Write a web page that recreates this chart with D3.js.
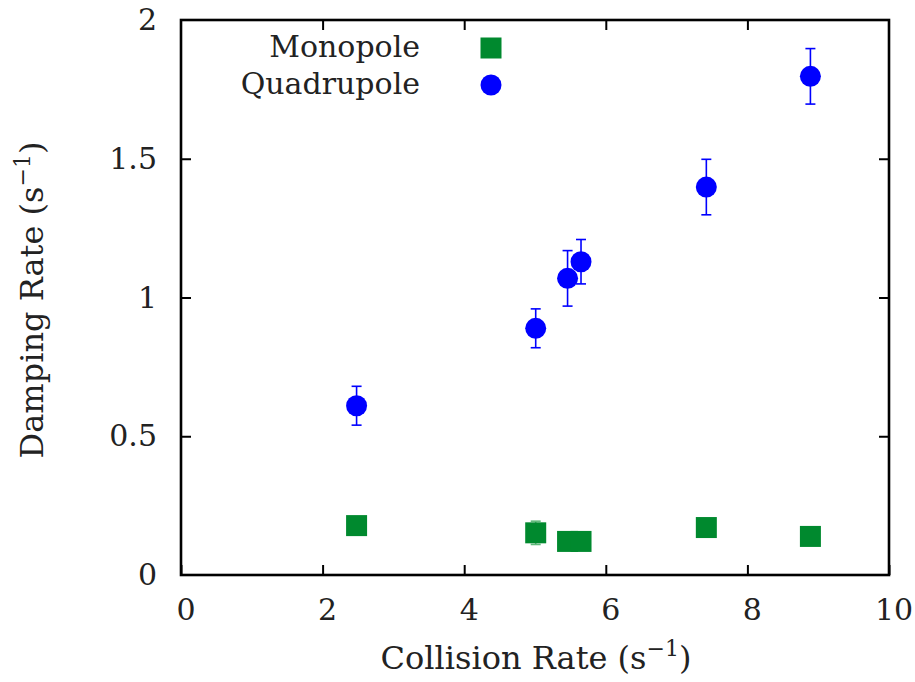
<!DOCTYPE html>
<html>
<head>
<meta charset="utf-8">
<script src="https://cdn.jsdelivr.net/npm/d3@7"></script>
<style>
  html, body { margin: 0; padding: 0; background: #fff; }
  svg { display: block; }
  text { font-family: "DejaVu Serif", serif; fill: #222; }
</style>
</head>
<body>
<svg id="chart" width="915" height="682"></svg>
<script>
// ---- data ----
const collisionRate = [2.48, 5.01, 5.46, 5.65, 7.42, 8.89];
const monopole      = [0.178, 0.152, 0.121, 0.121, 0.171, 0.139];
const monopoleErr   = [0.02, 0.042, 0.02, 0.02, 0.02, 0.02];
const quadrupole    = [0.61, 0.889, 1.069, 1.129, 1.398, 1.797];
const quadrupoleErr = [0.07, 0.07, 0.10, 0.08, 0.10, 0.10];
const xTicks = [0, 2, 4, 6, 8, 10];
const yTicks = [0, 0.5, 1, 1.5, 2];
const yTickLabels = ["0", "0.5", "1", "1.5", "2"];
const seriesNames = ["Monopole", "Quadrupole"];

const green = "#00892e";
const blue = "#0000ff";

const svg = d3.select("#chart");
const L = 181, R = 889, T = 20, B = 575;
const x = d3.scaleLinear().domain([0, 10]).range([L, R]);
const y = d3.scaleLinear().domain([0, 2]).range([B, T]);

const fs = 30;
const fsTitle = 32;
const ff = "DejaVu Serif, serif";

// ticks (inside, mirrored)
const tickLen = 10;
const axisG = svg.append("g");
const bottomAxis = d3.axisBottom(x).tickValues(xTicks).tickSizeInner(-tickLen).tickSizeOuter(0).tickFormat("");
const topAxis = d3.axisTop(x).tickValues(xTicks.slice(1, -1)).tickSizeInner(-tickLen).tickSizeOuter(0).tickFormat("");
const leftAxis = d3.axisLeft(y).tickValues(yTicks.slice(1, -1)).tickSizeInner(-tickLen).tickSizeOuter(0).tickFormat("");
const rightAxis = d3.axisRight(y).tickValues(yTicks.slice(1, -1)).tickSizeInner(-tickLen).tickSizeOuter(0).tickFormat("");
axisG.append("g").attr("transform", `translate(0,${B})`).call(bottomAxis);
axisG.append("g").attr("transform", `translate(0,${T})`).call(topAxis);
axisG.append("g").attr("transform", `translate(${L},0)`).call(leftAxis);
axisG.append("g").attr("transform", `translate(${R},0)`).call(rightAxis);
axisG.selectAll(".domain").remove();
axisG.selectAll(".tick line").attr("stroke", "#000").attr("stroke-width", 2);

// frame
svg.append("rect").attr("x", L).attr("y", T).attr("width", R - L).attr("height", B - T)
  .attr("fill", "none").attr("stroke", "#000").attr("stroke-width", 2.6);

// tick labels
svg.append("g").selectAll("text").data(xTicks).join("text")
  .attr("x", d => x(d) + 5).attr("y", 620)
  .attr("text-anchor", "middle").attr("font-size", fs).attr("font-family", ff)
  .text(d => d);
svg.append("g").selectAll("text").data(yTicks).join("text")
  .attr("x", 157).attr("y", d => y(d) + 10)
  .attr("text-anchor", "end").attr("font-size", fs).attr("font-family", ff)
  .text((d, i) => yTickLabels[i]);

// axis titles
const xt = svg.append("text").attr("x", 536).attr("y", 669).attr("text-anchor", "middle")
  .attr("font-size", fsTitle).attr("font-family", ff);
xt.append("tspan").text("Collision Rate (s");
xt.append("tspan").attr("font-size", 22).attr("dy", -13).text("−1");
xt.append("tspan").attr("dy", 13).text(")");

const yt = svg.append("text").attr("transform", "translate(43,300) rotate(-90)").attr("text-anchor", "middle")
  .attr("font-size", fsTitle).attr("font-family", ff);
yt.append("tspan").text("Damping Rate (s");
yt.append("tspan").attr("font-size", 22).attr("dy", -13).text("−1");
yt.append("tspan").attr("dy", 13).text(")");

// data
const pts = collisionRate.map((c, i) => ({ c, m: monopole[i], me: monopoleErr[i], q: quadrupole[i], qe: quadrupoleErr[i] }));
const capW = 5;

function errBars(g, key, errKey, color) {
  const eg = g.append("g").attr("stroke", color).attr("stroke-width", 1.6);
  pts.forEach(p => {
    const x0 = x(p.c), y1 = y(p[key] + p[errKey]), y2 = y(p[key] - p[errKey]);
    eg.append("line").attr("x1", x0).attr("x2", x0).attr("y1", y1).attr("y2", y2);
    eg.append("line").attr("x1", x0 - capW).attr("x2", x0 + capW).attr("y1", y1).attr("y2", y1);
    eg.append("line").attr("x1", x0 - capW).attr("x2", x0 + capW).attr("y1", y2).attr("y2", y2);
  });
}

const dataG = svg.append("g");
errBars(dataG, "m", "me", "#5fb97a");
const sq = 21;
dataG.append("g").selectAll("rect").data(pts).join("rect")
  .attr("x", d => x(d.c) - sq / 2).attr("y", d => y(d.m) - sq / 2)
  .attr("width", sq).attr("height", sq).attr("fill", green);

errBars(dataG, "q", "qe", blue);
dataG.append("g").selectAll("circle").data(pts).join("circle")
  .attr("cx", d => x(d.c)).attr("cy", d => y(d.q)).attr("r", 10.5).attr("fill", blue);

// legend
const leg = svg.append("g");
leg.append("text").attr("x", 420).attr("y", 57).attr("text-anchor", "end").attr("font-size", fs).attr("font-family", ff).text(seriesNames[0]);
leg.append("rect").attr("x", 491 - sq / 2).attr("y", 48 - sq / 2).attr("width", sq).attr("height", sq).attr("fill", green);
leg.append("text").attr("x", 420).attr("y", 94).attr("text-anchor", "end").attr("font-size", fs).attr("font-family", ff).text(seriesNames[1]);
leg.append("circle").attr("cx", 491).attr("cy", 85).attr("r", 10.5).attr("fill", blue);
</script>
</body>
</html>
